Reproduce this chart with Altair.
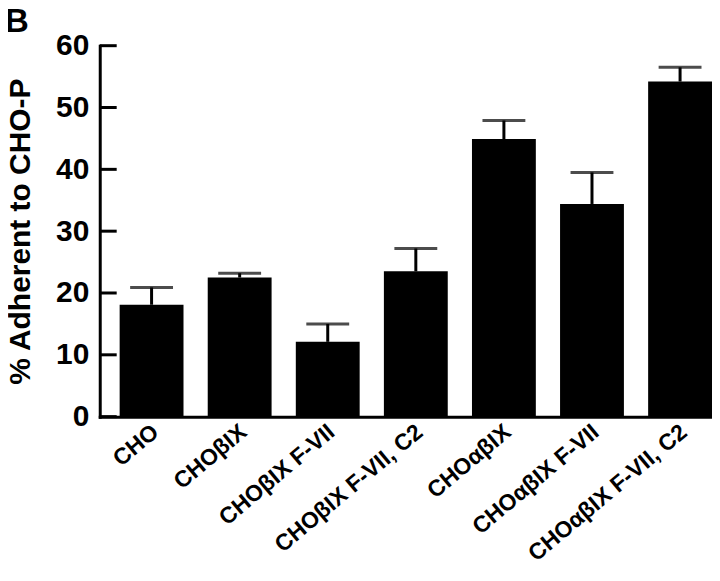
import altair as alt
import pandas as pd

categories = ["CHO", "CHOβIX", "CHOβIX F-VII", "CHOβIX F-VII, C2",
              "CHOαβIX", "CHOαβIX F-VII", "CHOαβIX F-VII, C2"]
means = [18.1, 22.5, 12.1, 23.5, 44.9, 34.4, 54.2]
errors = [2.8, 0.7, 2.9, 3.7, 3.0, 5.1, 2.3]
y_ticks = [0, 10, 20, 30, 40, 50, 60]

df = pd.DataFrame({"cat": categories, "mean": means, "err": errors})
df["upper"] = df["mean"] + df["err"]
ticks_df = pd.DataFrame({"v": y_ticks})

FONT = "Liberation Sans"

xscale = alt.Scale(domain=categories, paddingInner=0.275, paddingOuter=0.113, align=1)
yscale = alt.Scale(domain=[0, 60], nice=False, zero=True)

x_enc = alt.X("cat:N", scale=xscale, sort=categories,
              axis=alt.Axis(title=None, labelAngle=-40, labelAlign="right",
                            labelBaseline="middle", labelPadding=12, labelOffset=4,
                            ticks=False, domainWidth=3, domainColor="black",
                            labelFont=FONT, labelFontWeight="bold", labelFontSize=23,
                            labelColor="black", labelLimit=400))

bars = alt.Chart(df).mark_bar(color="black").encode(
    x=x_enc,
    y=alt.Y("mean:Q", scale=yscale,
            axis=alt.Axis(title="% Adherent to CHO-P", values=y_ticks, ticks=False,
                          grid=False, domainWidth=3, domainColor="black",
                          labelFont=FONT, labelFontWeight="bold", labelFontSize=30,
                          labelColor="black", labelPadding=11,
                          titleFont=FONT, titleFontWeight="bold", titleFontSize=30,
                          titleColor="black", titleX=-70, titleY=186,
                          titleAngle=270, titleAlign="center", titleBaseline="alphabetic")),
)

err_rule = alt.Chart(df).mark_rule(color="black", strokeWidth=3).encode(
    x=alt.X("cat:N", scale=xscale, sort=categories),
    y=alt.Y("mean:Q", scale=yscale),
    y2="upper:Q",
)

err_cap = alt.Chart(df).mark_tick(color="black", size=43, thickness=3).encode(
    x=alt.X("cat:N", scale=xscale, sort=categories),
    y=alt.Y("upper:Q", scale=yscale),
)

inner_ticks = alt.Chart(ticks_df).mark_rule(color="black", strokeWidth=3).encode(
    y=alt.Y("v:Q", scale=yscale),
    x=alt.value(0),
    x2=alt.value(17),
)

label_df = pd.DataFrame({"t": ["B"]})
panel = alt.Chart(label_df).mark_text(
    font=FONT, fontWeight="bold", fontSize=33, align="left", baseline="alphabetic", color="black"
).encode(text="t:N", x=alt.value(-95), y=alt.value(-14))

chart = alt.layer(bars, err_rule, err_cap, inner_ticks, panel).properties(
    width=614, height=372,
    padding={"left": 92, "top": 37, "right": 0, "bottom": 156},
    autosize=alt.AutoSizeParams(type="none"),
).configure_view(stroke=None).configure_axis(domainCap="square")

chart.save("out.html", embed_options={"renderer": "svg", "actions": False})
